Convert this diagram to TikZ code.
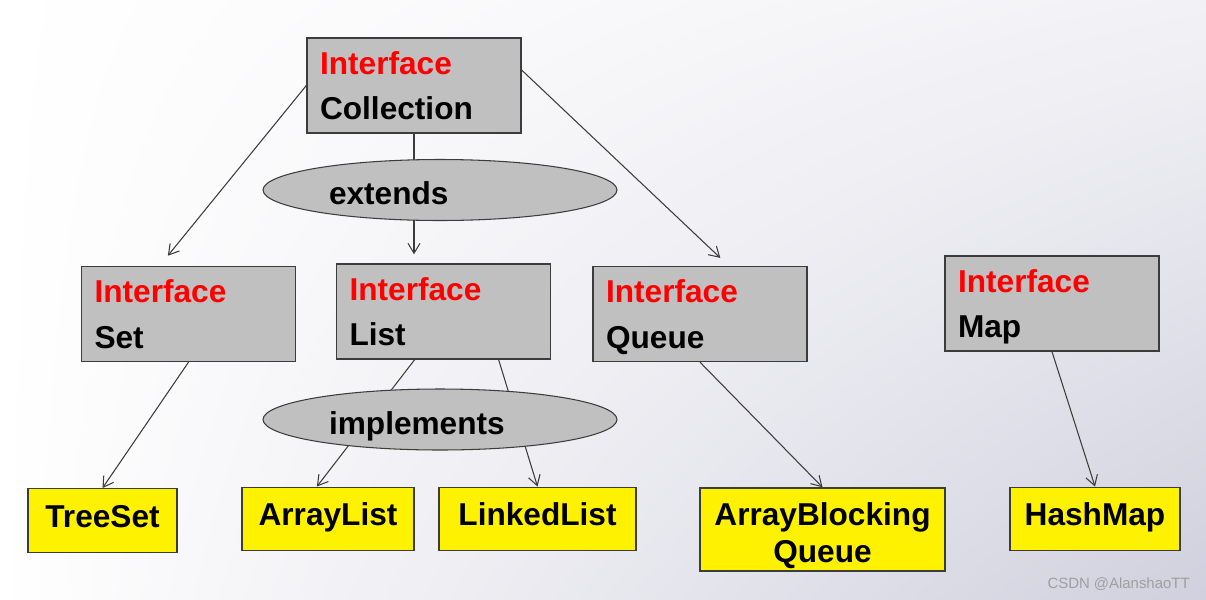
\documentclass[tikz,border=0pt]{standalone}
\usepackage{fontspec}
\setmainfont{Liberation Sans}
\usetikzlibrary{shapes.geometric,shadings}
\usetikzlibrary{arrows.meta, calc, positioning}
\definecolor{boxgray}{RGB}{192,192,192}
\definecolor{linegray}{RGB}{60,60,60}
\definecolor{bgtop}{RGB}{242,242,246}
\definecolor{bgdark}{RGB}{208,208,222}
\tikzset{
    iface box/.style={
        draw=linegray,thick,
        fill=boxgray,
        minimum width=4.28cm,minimum height=1.9cm,
        text width=3.76cm,inner xsep=.26cm,align=left,
        execute at begin node={\rule{0pt}{17pt}},
        execute at end node={\rule[-3.8pt]{0pt}{0pt}},
        font=\bfseries\fontsize{18pt}{26pt}\selectfont
    },
    impl box/.style={
        draw=linegray,thick,
        fill=yellow,
        minimum height=1.27cm,
        align=center,
        font=\bfseries\fontsize{18pt}{21pt}\selectfont
    },
    rel oval/.style={
        ellipse,draw=linegray,semithick,
        fill=boxgray,
        minimum width=7.08cm,minimum height=1.22cm,inner sep=0pt,
        text width=4.44cm,align=left,text height=17pt,text depth=0pt,
        font=\bfseries\fontsize{18pt}{21pt}\selectfont
    },
    >={Straight Barb[length=2mm,width=2.4mm]},
    link/.style={draw=linegray,line width=.6pt,->},
}

\begin{document}
\begin{tikzpicture}[x=0.02cm,y=-0.02cm]
    \shade[upper left=white,upper right=bgtop,lower left=white,lower right=bgdark]
        (0,0) rectangle (1206,599);
    \useasboundingbox (0,0) rectangle (1206,599);
    % interfaces
    \foreach \name/\x/\y/\txt in {coll/414/85.5/Collection,set/188.5/314/Set,list/443.5/311.5/List,queue/700/314/Queue,map/1052/303.5/Map}
        \node[iface box] (\name) at (\x,\y) {\textcolor{red}{Interface}\\\txt};
    % classes
    \foreach \name/\x/\y/\w/\txt in {treeset/102.5/520.5/2.98/TreeSet,arraylist/328/519/3.44/ArrayList,linkedlist/537.5/519/3.94/LinkedList,hashmap/1095/519/3.4/HashMap}
        \node[impl box,minimum width=\w cm,text height=13pt,text depth=5.6pt] (\name) at (\x,\y) {\txt};
    \node[impl box,minimum width=4.9cm,minimum height=1.66cm,text height=38pt,text depth=0pt] (abq) at (822.5,529.5) {ArrayBlocking\\Queue};

    \draw[link,shorten >=.26cm] (coll.west) -- ($(set.north west)!.366!(set.north east)$);
    \draw[link,shorten >=.18cm] (coll.south) -- (coll.south |- list.north);
    \draw[link,shorten >=.23cm] ($(coll.north east)!.34!(coll.south east)$) -- ($(queue.north west)!.633!(queue.north east)$);
    \draw[link] (set.south) -- (treeset.north);
    \draw[link] ($(list.south west)!.366!(list.south east)$) -- ($(arraylist.north west)!.436!(arraylist.north east)$);
    \draw[link] ($(list.south west)!.756!(list.south east)$) -- (linkedlist.north);
    \draw[link] (queue.south) -- (abq.north);
    \draw[link] (map.south) -- (hashmap.north);

    \node[rel oval] (extends) at (440,190) {extends};
    \node[rel oval] (implements) at (440,419.5) {implements};

    \node[anchor=base east,inner sep=0pt,text=gray!75,font=\fontsize{8.5pt}{10pt}\selectfont] (mark) at (1190,588) {CSDN @AlanshaoTT};
\end{tikzpicture}
\end{document}
